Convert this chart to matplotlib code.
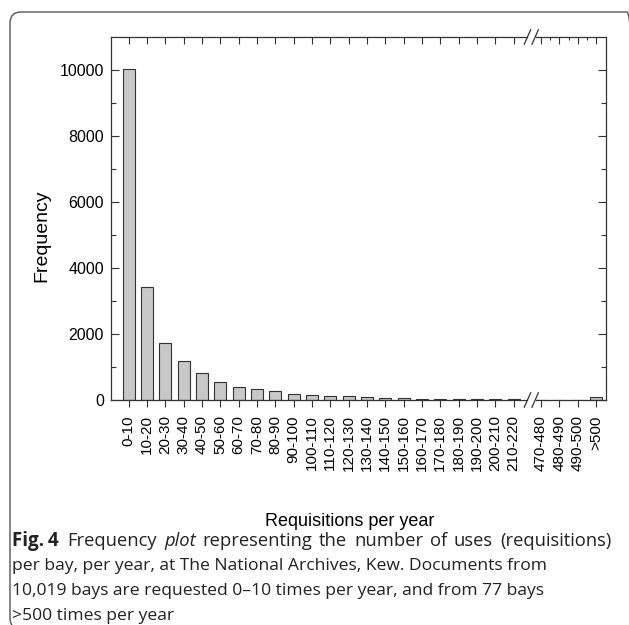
import matplotlib
matplotlib.use("Agg")
import matplotlib.pyplot as plt
from matplotlib.patches import FancyBboxPatch

# Data
categories = ["0-10", "10-20", "20-30", "30-40", "40-50", "50-60", "60-70",
              "70-80", "80-90", "90-100", "100-110", "110-120", "120-130",
              "130-140", "140-150", "150-160", "160-170", "170-180",
              "180-190", "190-200", "200-210", "210-220",
              "470-480", "480-490", "490-500", ">500"]
frequency = [10019, 3420, 1740, 1180, 820, 545, 380, 330, 280, 185, 165,
             135, 120, 100, 70, 50, 45, 35, 30, 28, 25, 22,
             3, 2, 2, 77]
n_before_break = 22
y_ticks = [0, 2000, 4000, 6000, 8000, 10000]

caption_first = "Frequency plot representing the number of uses (requisitions)"
caption_lines = [
    "per bay, per year, at The National Archives, Kew. Documents from",
    "10,019 bays are requested 0\u201310 times per year, and from 77 bays",
    ">500 times per year",
]

plt.rcParams["font.family"] = ["Liberation Sans", "DejaVu Sans"]

W, H = 629, 625
fig = plt.figure(figsize=(W / 100, H / 100), dpi=100)

# rounded frame around figure + caption (right and bottom run off the page)
box = FancyBboxPatch((10, -4), 628, 617, boxstyle="round,pad=0,rounding_size=11",
                     transform=None, facecolor="none", edgecolor="#555555",
                     linewidth=1.0)
fig.add_artist(box)

ax = fig.add_axes([111 / W, 1 - 400 / H, (606 - 111) / W, (400 - 37) / H])

# positions: a gap of half a slot where the axis is broken
pos = [i if i < n_before_break else i + 0.5 for i in range(len(categories))]

ax.bar(pos, frequency, width=0.65, color="#c8c8c8", edgecolor="#333333",
       linewidth=0.8)

ax.set_xlim(-0.97, 26.04)
ax.set_ylim(0, 11000)

ax.set_yticks(y_ticks)
ax.set_yticks(range(1000, 11000, 2000), minor=True)
ax.tick_params(axis="y", which="both", direction="in", right=True,
               labelsize=11.5, width=0.8, color="#333333", pad=5)
ax.tick_params(axis="y", which="major", length=6)
ax.tick_params(axis="y", which="minor", length=3.5)

ax.set_xticks(pos)
ax.set_xticklabels(categories, rotation=90)
ax.tick_params(axis="x", which="both", direction="out", top=False,
               labelsize=11, length=5, width=0.8, color="#333333", pad=6)

# top ticks pointing inward
top = ax.secondary_xaxis("top")
top.set_xticks(pos)
top.set_xticks([p + 0.5 for p in pos[n_before_break:-1]], minor=True)
top.tick_params(axis="x", which="both", direction="in", labeltop=False,
                width=0.8, color="#333333")
top.tick_params(axis="x", which="major", length=5)
top.tick_params(axis="x", which="minor", length=2.5)
top.spines["top"].set_visible(False)

for side in ["left", "right"]:
    ax.spines[side].set_linewidth(0.9)
    ax.spines[side].set_color("#333333")
ax.spines["top"].set_visible(False)
ax.spines["bottom"].set_visible(False)

# draw top/bottom spines in two pieces with break marks
trans = ax.get_xaxis_transform()
lo, hi = ax.get_xlim()
gap_lo, gap_hi = 21.75, 22.2
for yy in [0, 1]:
    ax.plot([lo, gap_lo], [yy, yy], transform=trans, color="#333333",
            lw=0.9, clip_on=False)
    ax.plot([gap_hi, hi], [yy, yy], transform=trans, color="#333333",
            lw=0.9, clip_on=False)
    for x0 in [21.58, 22.0]:
        ax.plot([x0, x0 + 0.35], [yy - 0.02, yy + 0.02], transform=trans,
                color="#333333", lw=0.9, clip_on=False)

fig.text(42 / W, 1 - 236 / H, "Frequency", rotation=90, ha="center",
         va="center", fontsize=14)
fig.text(350 / W, 1 - 522 / H, "Requisitions per year", ha="center",
         va="center", fontsize=13)

# caption; first line spread to the right edge (bold label, italic "plot")
cap_font = ["Open Sans", "DejaVu Sans"]
cap_size = 12.6
fig.canvas.draw()
renderer = fig.canvas.get_renderer()
y1 = 1 - 541 / H
label = fig.text(12 / W, y1, "Fig.\u20094", fontsize=13.5, family=cap_font,
                 fontweight="bold", va="center", ha="left", color="#222222")
x_start = 12 + label.get_window_extent(renderer).width + 9
words = caption_first.split(" ")
word_texts = []
for w in words:
    t = fig.text(0, y1, w, fontsize=13.2, family=cap_font,
                 fontstyle="italic" if w == "plot" else "normal",
                 va="center", ha="left", color="#222222")
    word_texts.append(t)
widths = [t.get_window_extent(renderer).width for t in word_texts]
space = (611 - x_start - sum(widths)) / (len(words) - 1)
x = x_start
for t, wd in zip(word_texts, widths):
    t.set_x(x / W)
    x += wd + space

for i, line in enumerate(caption_lines):
    fig.text(12 / W, 1 - (566 + 25 * i) / H, line, fontsize=cap_size,
             family=cap_font, va="center", ha="left", color="#222222")

fig.savefig("out.png", dpi=100)
